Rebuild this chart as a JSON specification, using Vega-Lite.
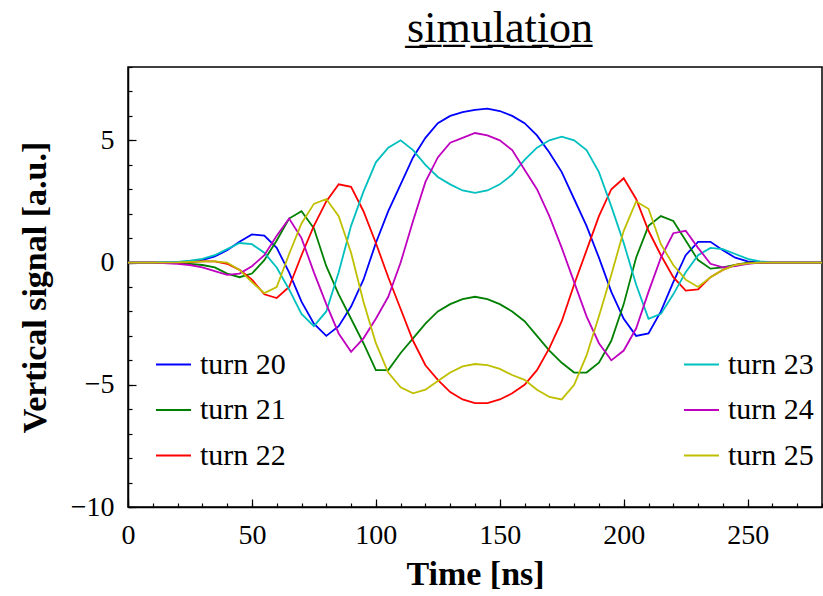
{
"$schema":"https://vega.github.io/schema/vega-lite/v6.json",
"width":694,"height":440,
"autosize":"none",
"padding":{"left":128,"top":67,"right":1,"bottom":89},
"title":{"text":"s\u0332i\u0332m\u0332u\u0332l\u0332a\u0332t\u0332i\u0332o\u0332n\u0332","font":"Liberation Serif","fontSize":44,"fontWeight":"normal","color":"black","anchor":"middle","dx":25,"offset":-20,"baseline":"alphabetic"},
"config":{
"view":{"stroke":"black","strokeWidth":1.5},
"axis":{"domainColor":"black","domainWidth":1.5,"tickColor":"black","tickWidth":1.2,"labelColor":"black","titleColor":"black","labelFont":"Liberation Serif","titleFont":"Liberation Serif","grid":false,"labelFlush":false},
"legend":{"labelFont":"Liberation Serif","labelFontSize":30,"labelColor":"black","symbolType":"stroke","symbolSize":1225,"symbolStrokeWidth":2,"rowPadding":11.5,"labelOffset":8,"padding":0,"orient":"none"}
},
"data":{"values":[
{"t":0,"v":0,"s":"turn 20"},{"t":10,"v":0,"s":"turn 20"},{"t":20,"v":0.02,"s":"turn 20"},{"t":25,"v":0.05,"s":"turn 20"},{"t":30,"v":0.1,"s":"turn 20"},{"t":35,"v":0.25,"s":"turn 20"},{"t":40,"v":0.5,"s":"turn 20"},{"t":45,"v":0.85,"s":"turn 20"},{"t":50,"v":1.15,"s":"turn 20"},{"t":55,"v":1.1,"s":"turn 20"},{"t":60,"v":0.6,"s":"turn 20"},{"t":65,"v":-0.4,"s":"turn 20"},{"t":70,"v":-1.6,"s":"turn 20"},{"t":75,"v":-2.5,"s":"turn 20"},{"t":80,"v":-3.0,"s":"turn 20"},{"t":85,"v":-2.6,"s":"turn 20"},{"t":90,"v":-1.8,"s":"turn 20"},{"t":95,"v":-0.7,"s":"turn 20"},{"t":100,"v":0.8,"s":"turn 20"},{"t":105,"v":2.1,"s":"turn 20"},{"t":110,"v":3.2,"s":"turn 20"},{"t":115,"v":4.3,"s":"turn 20"},{"t":120,"v":5.1,"s":"turn 20"},{"t":125,"v":5.7,"s":"turn 20"},{"t":130,"v":6.0,"s":"turn 20"},{"t":135,"v":6.15,"s":"turn 20"},{"t":140,"v":6.25,"s":"turn 20"},{"t":145,"v":6.3,"s":"turn 20"},{"t":150,"v":6.2,"s":"turn 20"},{"t":155,"v":6.0,"s":"turn 20"},{"t":160,"v":5.7,"s":"turn 20"},{"t":165,"v":5.2,"s":"turn 20"},{"t":170,"v":4.5,"s":"turn 20"},{"t":175,"v":3.7,"s":"turn 20"},{"t":180,"v":2.6,"s":"turn 20"},{"t":185,"v":1.5,"s":"turn 20"},{"t":190,"v":0.2,"s":"turn 20"},{"t":195,"v":-1.2,"s":"turn 20"},{"t":200,"v":-2.3,"s":"turn 20"},{"t":205,"v":-3.0,"s":"turn 20"},{"t":210,"v":-2.9,"s":"turn 20"},{"t":215,"v":-2.0,"s":"turn 20"},{"t":220,"v":-0.8,"s":"turn 20"},{"t":225,"v":0.3,"s":"turn 20"},{"t":230,"v":0.85,"s":"turn 20"},{"t":235,"v":0.85,"s":"turn 20"},{"t":240,"v":0.5,"s":"turn 20"},{"t":245,"v":0.2,"s":"turn 20"},{"t":250,"v":0.05,"s":"turn 20"},{"t":255,"v":0,"s":"turn 20"},{"t":260,"v":0,"s":"turn 20"},{"t":270,"v":0,"s":"turn 20"},{"t":280,"v":0,"s":"turn 20"},
{"t":0,"v":0,"s":"turn 21"},{"t":10,"v":0,"s":"turn 21"},{"t":20,"v":-0.02,"s":"turn 21"},{"t":25,"v":-0.05,"s":"turn 21"},{"t":30,"v":-0.1,"s":"turn 21"},{"t":35,"v":-0.2,"s":"turn 21"},{"t":40,"v":-0.45,"s":"turn 21"},{"t":45,"v":-0.6,"s":"turn 21"},{"t":50,"v":-0.45,"s":"turn 21"},{"t":55,"v":0.1,"s":"turn 21"},{"t":60,"v":0.9,"s":"turn 21"},{"t":65,"v":1.8,"s":"turn 21"},{"t":70,"v":2.1,"s":"turn 21"},{"t":75,"v":1.4,"s":"turn 21"},{"t":80,"v":-0.15,"s":"turn 21"},{"t":85,"v":-1.3,"s":"turn 21"},{"t":90,"v":-2.3,"s":"turn 21"},{"t":95,"v":-3.3,"s":"turn 21"},{"t":100,"v":-4.4,"s":"turn 21"},{"t":105,"v":-4.4,"s":"turn 21"},{"t":110,"v":-3.7,"s":"turn 21"},{"t":115,"v":-3.1,"s":"turn 21"},{"t":120,"v":-2.5,"s":"turn 21"},{"t":125,"v":-2.0,"s":"turn 21"},{"t":130,"v":-1.7,"s":"turn 21"},{"t":135,"v":-1.5,"s":"turn 21"},{"t":140,"v":-1.4,"s":"turn 21"},{"t":145,"v":-1.5,"s":"turn 21"},{"t":150,"v":-1.7,"s":"turn 21"},{"t":155,"v":-2.0,"s":"turn 21"},{"t":160,"v":-2.4,"s":"turn 21"},{"t":165,"v":-3.0,"s":"turn 21"},{"t":170,"v":-3.6,"s":"turn 21"},{"t":175,"v":-4.1,"s":"turn 21"},{"t":180,"v":-4.5,"s":"turn 21"},{"t":185,"v":-4.5,"s":"turn 21"},{"t":190,"v":-4.1,"s":"turn 21"},{"t":195,"v":-3.2,"s":"turn 21"},{"t":200,"v":-1.7,"s":"turn 21"},{"t":205,"v":0.2,"s":"turn 21"},{"t":210,"v":1.5,"s":"turn 21"},{"t":215,"v":1.9,"s":"turn 21"},{"t":220,"v":1.7,"s":"turn 21"},{"t":225,"v":0.9,"s":"turn 21"},{"t":230,"v":0.1,"s":"turn 21"},{"t":235,"v":-0.25,"s":"turn 21"},{"t":240,"v":-0.2,"s":"turn 21"},{"t":245,"v":-0.1,"s":"turn 21"},{"t":250,"v":0,"s":"turn 21"},{"t":255,"v":0,"s":"turn 21"},{"t":260,"v":0,"s":"turn 21"},{"t":270,"v":0,"s":"turn 21"},{"t":280,"v":0,"s":"turn 21"},
{"t":0,"v":0,"s":"turn 22"},{"t":10,"v":0,"s":"turn 22"},{"t":20,"v":0,"s":"turn 22"},{"t":25,"v":0.02,"s":"turn 22"},{"t":30,"v":0.05,"s":"turn 22"},{"t":35,"v":0.05,"s":"turn 22"},{"t":40,"v":-0.05,"s":"turn 22"},{"t":45,"v":-0.3,"s":"turn 22"},{"t":50,"v":-0.7,"s":"turn 22"},{"t":55,"v":-1.3,"s":"turn 22"},{"t":60,"v":-1.45,"s":"turn 22"},{"t":65,"v":-1.0,"s":"turn 22"},{"t":70,"v":0.3,"s":"turn 22"},{"t":75,"v":1.5,"s":"turn 22"},{"t":80,"v":2.5,"s":"turn 22"},{"t":85,"v":3.2,"s":"turn 22"},{"t":90,"v":3.1,"s":"turn 22"},{"t":95,"v":2.1,"s":"turn 22"},{"t":100,"v":0.8,"s":"turn 22"},{"t":105,"v":-0.6,"s":"turn 22"},{"t":110,"v":-1.9,"s":"turn 22"},{"t":115,"v":-3.2,"s":"turn 22"},{"t":120,"v":-4.2,"s":"turn 22"},{"t":125,"v":-4.8,"s":"turn 22"},{"t":130,"v":-5.3,"s":"turn 22"},{"t":135,"v":-5.6,"s":"turn 22"},{"t":140,"v":-5.75,"s":"turn 22"},{"t":145,"v":-5.75,"s":"turn 22"},{"t":150,"v":-5.6,"s":"turn 22"},{"t":155,"v":-5.35,"s":"turn 22"},{"t":160,"v":-5.0,"s":"turn 22"},{"t":165,"v":-4.4,"s":"turn 22"},{"t":170,"v":-3.5,"s":"turn 22"},{"t":175,"v":-2.4,"s":"turn 22"},{"t":180,"v":-0.9,"s":"turn 22"},{"t":185,"v":0.5,"s":"turn 22"},{"t":190,"v":1.9,"s":"turn 22"},{"t":195,"v":3.0,"s":"turn 22"},{"t":200,"v":3.45,"s":"turn 22"},{"t":205,"v":2.6,"s":"turn 22"},{"t":210,"v":1.3,"s":"turn 22"},{"t":215,"v":0.3,"s":"turn 22"},{"t":220,"v":-0.6,"s":"turn 22"},{"t":225,"v":-1.15,"s":"turn 22"},{"t":230,"v":-1.1,"s":"turn 22"},{"t":235,"v":-0.6,"s":"turn 22"},{"t":240,"v":-0.3,"s":"turn 22"},{"t":245,"v":-0.1,"s":"turn 22"},{"t":250,"v":-0.03,"s":"turn 22"},{"t":255,"v":0,"s":"turn 22"},{"t":260,"v":0,"s":"turn 22"},{"t":270,"v":0,"s":"turn 22"},{"t":280,"v":0,"s":"turn 22"},
{"t":0,"v":0,"s":"turn 23"},{"t":10,"v":0,"s":"turn 23"},{"t":20,"v":0.03,"s":"turn 23"},{"t":25,"v":0.08,"s":"turn 23"},{"t":30,"v":0.15,"s":"turn 23"},{"t":35,"v":0.3,"s":"turn 23"},{"t":40,"v":0.55,"s":"turn 23"},{"t":45,"v":0.8,"s":"turn 23"},{"t":50,"v":0.75,"s":"turn 23"},{"t":55,"v":0.4,"s":"turn 23"},{"t":60,"v":-0.2,"s":"turn 23"},{"t":65,"v":-1.1,"s":"turn 23"},{"t":70,"v":-2.1,"s":"turn 23"},{"t":75,"v":-2.6,"s":"turn 23"},{"t":80,"v":-2.0,"s":"turn 23"},{"t":85,"v":-0.4,"s":"turn 23"},{"t":90,"v":1.5,"s":"turn 23"},{"t":95,"v":2.9,"s":"turn 23"},{"t":100,"v":4.1,"s":"turn 23"},{"t":105,"v":4.7,"s":"turn 23"},{"t":110,"v":5.0,"s":"turn 23"},{"t":115,"v":4.6,"s":"turn 23"},{"t":120,"v":4.0,"s":"turn 23"},{"t":125,"v":3.5,"s":"turn 23"},{"t":130,"v":3.2,"s":"turn 23"},{"t":135,"v":2.95,"s":"turn 23"},{"t":140,"v":2.85,"s":"turn 23"},{"t":145,"v":2.95,"s":"turn 23"},{"t":150,"v":3.2,"s":"turn 23"},{"t":155,"v":3.6,"s":"turn 23"},{"t":160,"v":4.2,"s":"turn 23"},{"t":165,"v":4.7,"s":"turn 23"},{"t":170,"v":5.0,"s":"turn 23"},{"t":175,"v":5.15,"s":"turn 23"},{"t":180,"v":5.0,"s":"turn 23"},{"t":185,"v":4.6,"s":"turn 23"},{"t":190,"v":3.7,"s":"turn 23"},{"t":195,"v":2.3,"s":"turn 23"},{"t":200,"v":0.8,"s":"turn 23"},{"t":205,"v":-0.9,"s":"turn 23"},{"t":210,"v":-2.3,"s":"turn 23"},{"t":215,"v":-2.1,"s":"turn 23"},{"t":220,"v":-1.3,"s":"turn 23"},{"t":225,"v":-0.4,"s":"turn 23"},{"t":230,"v":0.3,"s":"turn 23"},{"t":235,"v":0.6,"s":"turn 23"},{"t":240,"v":0.55,"s":"turn 23"},{"t":245,"v":0.35,"s":"turn 23"},{"t":250,"v":0.15,"s":"turn 23"},{"t":255,"v":0.05,"s":"turn 23"},{"t":260,"v":0,"s":"turn 23"},{"t":270,"v":0,"s":"turn 23"},{"t":280,"v":0,"s":"turn 23"},
{"t":0,"v":0,"s":"turn 24"},{"t":10,"v":0,"s":"turn 24"},{"t":20,"v":-0.05,"s":"turn 24"},{"t":25,"v":-0.1,"s":"turn 24"},{"t":30,"v":-0.2,"s":"turn 24"},{"t":35,"v":-0.35,"s":"turn 24"},{"t":40,"v":-0.5,"s":"turn 24"},{"t":45,"v":-0.45,"s":"turn 24"},{"t":50,"v":-0.15,"s":"turn 24"},{"t":55,"v":0.3,"s":"turn 24"},{"t":60,"v":1.1,"s":"turn 24"},{"t":65,"v":1.8,"s":"turn 24"},{"t":70,"v":1.0,"s":"turn 24"},{"t":75,"v":-0.4,"s":"turn 24"},{"t":80,"v":-1.7,"s":"turn 24"},{"t":85,"v":-2.9,"s":"turn 24"},{"t":90,"v":-3.65,"s":"turn 24"},{"t":95,"v":-3.1,"s":"turn 24"},{"t":100,"v":-2.3,"s":"turn 24"},{"t":105,"v":-1.4,"s":"turn 24"},{"t":110,"v":0.0,"s":"turn 24"},{"t":115,"v":1.7,"s":"turn 24"},{"t":120,"v":3.3,"s":"turn 24"},{"t":125,"v":4.3,"s":"turn 24"},{"t":130,"v":4.9,"s":"turn 24"},{"t":135,"v":5.1,"s":"turn 24"},{"t":140,"v":5.3,"s":"turn 24"},{"t":145,"v":5.2,"s":"turn 24"},{"t":150,"v":5.0,"s":"turn 24"},{"t":155,"v":4.6,"s":"turn 24"},{"t":160,"v":3.8,"s":"turn 24"},{"t":165,"v":3.0,"s":"turn 24"},{"t":170,"v":1.9,"s":"turn 24"},{"t":175,"v":0.6,"s":"turn 24"},{"t":180,"v":-0.8,"s":"turn 24"},{"t":185,"v":-2.2,"s":"turn 24"},{"t":190,"v":-3.3,"s":"turn 24"},{"t":195,"v":-4.0,"s":"turn 24"},{"t":200,"v":-3.6,"s":"turn 24"},{"t":205,"v":-2.7,"s":"turn 24"},{"t":210,"v":-1.2,"s":"turn 24"},{"t":215,"v":0.2,"s":"turn 24"},{"t":220,"v":1.2,"s":"turn 24"},{"t":225,"v":1.3,"s":"turn 24"},{"t":230,"v":0.6,"s":"turn 24"},{"t":235,"v":-0.05,"s":"turn 24"},{"t":240,"v":-0.2,"s":"turn 24"},{"t":245,"v":-0.15,"s":"turn 24"},{"t":250,"v":-0.05,"s":"turn 24"},{"t":255,"v":0,"s":"turn 24"},{"t":260,"v":0,"s":"turn 24"},{"t":270,"v":0,"s":"turn 24"},{"t":280,"v":0,"s":"turn 24"},
{"t":0,"v":0,"s":"turn 25"},{"t":10,"v":0,"s":"turn 25"},{"t":20,"v":0.01,"s":"turn 25"},{"t":25,"v":0.03,"s":"turn 25"},{"t":30,"v":0.05,"s":"turn 25"},{"t":35,"v":0.05,"s":"turn 25"},{"t":40,"v":0.0,"s":"turn 25"},{"t":45,"v":-0.3,"s":"turn 25"},{"t":50,"v":-0.8,"s":"turn 25"},{"t":55,"v":-1.25,"s":"turn 25"},{"t":60,"v":-1.0,"s":"turn 25"},{"t":65,"v":0.35,"s":"turn 25"},{"t":70,"v":1.6,"s":"turn 25"},{"t":75,"v":2.4,"s":"turn 25"},{"t":80,"v":2.6,"s":"turn 25"},{"t":85,"v":1.9,"s":"turn 25"},{"t":90,"v":0.4,"s":"turn 25"},{"t":95,"v":-1.6,"s":"turn 25"},{"t":100,"v":-3.3,"s":"turn 25"},{"t":105,"v":-4.5,"s":"turn 25"},{"t":110,"v":-5.1,"s":"turn 25"},{"t":115,"v":-5.35,"s":"turn 25"},{"t":120,"v":-5.2,"s":"turn 25"},{"t":125,"v":-4.85,"s":"turn 25"},{"t":130,"v":-4.5,"s":"turn 25"},{"t":135,"v":-4.25,"s":"turn 25"},{"t":140,"v":-4.15,"s":"turn 25"},{"t":145,"v":-4.2,"s":"turn 25"},{"t":150,"v":-4.35,"s":"turn 25"},{"t":155,"v":-4.6,"s":"turn 25"},{"t":160,"v":-4.8,"s":"turn 25"},{"t":165,"v":-5.2,"s":"turn 25"},{"t":170,"v":-5.5,"s":"turn 25"},{"t":175,"v":-5.6,"s":"turn 25"},{"t":180,"v":-5.0,"s":"turn 25"},{"t":185,"v":-3.8,"s":"turn 25"},{"t":190,"v":-2.2,"s":"turn 25"},{"t":195,"v":-0.5,"s":"turn 25"},{"t":200,"v":1.3,"s":"turn 25"},{"t":205,"v":2.5,"s":"turn 25"},{"t":210,"v":2.2,"s":"turn 25"},{"t":215,"v":0.75,"s":"turn 25"},{"t":220,"v":-0.1,"s":"turn 25"},{"t":225,"v":-0.7,"s":"turn 25"},{"t":230,"v":-1.0,"s":"turn 25"},{"t":235,"v":-0.6,"s":"turn 25"},{"t":240,"v":-0.3,"s":"turn 25"},{"t":245,"v":-0.1,"s":"turn 25"},{"t":250,"v":-0.03,"s":"turn 25"},{"t":255,"v":0,"s":"turn 25"},{"t":260,"v":0,"s":"turn 25"},{"t":270,"v":0,"s":"turn 25"},{"t":280,"v":0,"s":"turn 25"}
]},
"layer":[
{"transform":[{"filter":{"field":"s","oneOf":["turn 20","turn 21","turn 22"]}}],
"mark":{"type":"line","strokeWidth":1.8},
"encoding":{
"x":{"field":"t","type":"quantitative","scale":{"domain":[0,280],"nice":false},"axis":{"orient":"bottom","values":[0,50,100,150,200,250],"tickSize":-8,"labelFontSize":28,"labelPadding":22,"title":"Time [ns]","titleFontSize":34,"titleFontWeight":"bold","titlePadding":8}},
"y":{"field":"v","type":"quantitative","scale":{"domain":[-10,8],"nice":false,"zero":false},"axis":{"orient":"left","values":[-10,-5,0,5],"tickSize":-8,"labelFontSize":28,"labelPadding":22,"title":"Vertical signal [a.u.]","titleFontSize":34,"titleFontWeight":"bold","titlePadding":18}},
"color":{"field":"s","type":"nominal","scale":{"domain":["turn 20","turn 21","turn 22"],"range":["#0000ff","#008000","#ff0000"]},"legend":{"title":null,"legendX":27,"legendY":279}}
}},
{"transform":[{"filter":{"field":"s","oneOf":["turn 23","turn 24","turn 25"]}}],
"mark":{"type":"line","strokeWidth":1.8},
"encoding":{
"x":{"field":"t","type":"quantitative","axis":{"orient":"bottom","values":[0,10,20,30,40,50,60,70,80,90,100,110,120,130,140,150,160,170,180,190,200,210,220,230,240,250,260,270,280],"tickSize":-4,"labels":false,"domain":false,"title":null}},
"y":{"field":"v","type":"quantitative","axis":{"orient":"left","values":[-10,-9,-8,-7,-6,-5,-4,-3,-2,-1,0,1,2,3,4,5,6,7,8],"tickSize":-4,"labels":false,"domain":false,"title":null}},
"color":{"field":"s","type":"nominal","scale":{"domain":["turn 23","turn 24","turn 25"],"range":["#00bfbf","#bf00bf","#bfbf00"]},"legend":{"title":null,"legendX":555,"legendY":279}}
}}
],
"resolve":{"scale":{"color":"independent"},"axis":{"x":"independent","y":"independent"}}
}
